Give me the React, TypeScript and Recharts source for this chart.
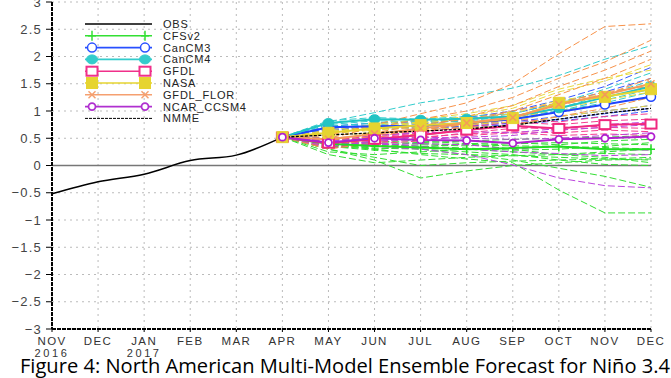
import React from 'react';
import { LineChart, Line, XAxis, YAxis, CartesianGrid, ReferenceLine } from 'recharts';

const months = ['NOV', 'DEC', 'JAN', 'FEB', 'MAR', 'APR', 'MAY', 'JUN', 'JUL', 'AUG', 'SEP', 'OCT', 'NOV', 'DEC'];
const yearLabels = ['2016', '', '2017', '', '', '', '', '', '', '', '', '', '', ''];
const obsValues = [-0.52, -0.3, -0.16, 0.09, 0.19, 0.52];
const initValue = 0.52; // APR, start of forecasts
const yTicks = [-3, -2.5, -2, -1.5, -1, -0.5, 0, 0.5, 1, 1.5, 2, 2.5, 3];

// model means, MAY..DEC
const cfsv2Mean = [0.4, 0.36, 0.33, 0.3, 0.32, 0.35, 0.3, 0.3];
const cancm3Mean = [0.7, 0.72, 0.73, 0.78, 0.85, 0.98, 1.12, 1.26];
const cancm4Mean = [0.78, 0.85, 0.84, 0.86, 0.9, 1.05, 1.25, 1.45];
const gfdlMean = [0.41, 0.48, 0.56, 0.65, 0.73, 0.68, 0.75, 0.76];
const nasaMean = [0.6, 0.68, 0.74, 0.78, 0.87, 1.15, 1.26, 1.4];
const florMean = [0.48, 0.58, 0.68, 0.78, 0.88, 1.12, 1.3, 1.5];
const ncarMean = [0.42, 0.5, 0.47, 0.46, 0.41, 0.48, 0.5, 0.53];
const nmmeMean = [0.56, 0.6, 0.63, 0.67, 0.74, 0.85, 0.96, 1.05];

// ensemble members, MAY..DEC
const cfsv2Members = [
  [0.45, 0.42, 0.4, 0.38, 0.36, 0.35, 0.33, 0.3],
  [0.35, 0.28, 0.22, 0.2, 0.18, 0.15, 0.12, 0.1],
  [0.3, 0.15, 0.0, 0.05, 0.08, 0.1, 0.12, 0.15],
  [0.4, 0.3, 0.2, 0.12, 0.05, -0.45, -0.87, -0.87],
  [0.3, 0.1, -0.23, -0.1, 0.0, 0.05, 0.1, 0.12],
  [0.38, 0.32, 0.3, 0.25, 0.2, 0.1, 0.02, 0.0],
  [0.5, 0.45, 0.42, 0.45, 0.48, 0.5, 0.52, 0.55],
  [0.25, 0.2, 0.25, 0.3, 0.25, 0.2, 0.25, 0.3],
  [0.42, 0.38, 0.3, 0.2, 0.1, -0.05, -0.2, -0.4],
  [0.48, 0.5, 0.45, 0.4, 0.3, 0.2, 0.15, 0.05],
  [0.33, 0.35, 0.38, 0.36, 0.4, 0.42, 0.4, 0.38],
  [0.2, 0.05, 0.1, 0.15, 0.18, 0.2, 0.22, 0.2],
  [0.44, 0.4, 0.35, 0.32, 0.28, 0.3, 0.35, 0.42],
  [0.36, 0.3, 0.34, 0.4, 0.42, 0.38, 0.45, 0.48],
];
const cancm3Members = [
  [0.68, 0.72, 0.75, 0.85, 0.95, 1.15, 1.35, 1.6],
  [0.7, 0.7, 0.72, 0.75, 0.8, 0.9, 1.0, 1.1],
  [0.65, 0.68, 0.7, 0.72, 0.78, 0.85, 0.95, 1.05],
  [0.72, 0.78, 0.8, 0.88, 1.0, 1.2, 1.45, 1.8],
  [0.66, 0.7, 0.68, 0.7, 0.75, 0.82, 0.9, 1.0],
];
const cancm4Members = [
  [0.8, 0.97, 1.15, 1.28, 1.42, 1.65, 1.95, 2.2],
  [0.75, 0.82, 0.8, 0.85, 0.88, 1.05, 1.3, 1.55],
  [0.72, 0.78, 0.82, 0.8, 0.85, 1.0, 1.15, 1.35],
  [0.82, 0.88, 0.85, 0.9, 0.95, 1.15, 1.4, 1.7],
  [0.7, 0.75, 0.78, 0.82, 0.9, 1.0, 1.2, 1.4],
];
const gfdlMembers = [
  [0.35, 0.42, 0.5, 0.6, 0.68, 0.7, 0.72, 0.78],
  [0.45, 0.55, 0.62, 0.7, 0.8, 0.75, 0.82, 0.85],
  [0.38, 0.45, 0.52, 0.58, 0.62, 0.6, 0.65, 0.62],
  [0.48, 0.52, 0.6, 0.72, 0.85, 0.8, 0.9, 0.95],
  [0.32, 0.4, 0.45, 0.55, 0.6, 0.55, 0.58, 0.55],
  [0.42, 0.5, 0.58, 0.65, 0.72, 0.65, 0.7, 0.68],
];
const nasaMembers = [
  [0.62, 0.72, 0.8, 0.9, 1.05, 1.35, 1.55, 1.85],
  [0.58, 0.65, 0.7, 0.75, 0.8, 1.0, 1.12, 1.25],
  [0.65, 0.75, 0.85, 0.95, 1.1, 1.4, 1.6, 1.75],
  [0.55, 0.6, 0.65, 0.7, 0.72, 0.9, 1.0, 1.1],
  [0.6, 0.7, 0.78, 0.85, 0.95, 1.2, 1.3, 1.5],
  [0.63, 0.68, 0.72, 0.75, 0.85, 1.05, 1.2, 1.35],
];
const florMembers = [
  [0.55, 0.75, 0.95, 1.15, 1.5, 2.05, 2.55, 2.6],
  [0.35, 0.5, 0.7, 0.9, 1.1, 1.45, 1.75, 2.1],
  [0.4, 0.55, 0.65, 0.75, 0.9, 1.1, 1.3, 1.6],
  [0.3, 0.42, 0.6, 0.8, 1.0, 1.3, 1.6, 1.95],
  [0.45, 0.6, 0.75, 0.85, 1.0, 1.15, 1.35, 1.45],
  [0.38, 0.48, 0.55, 0.65, 0.75, 0.9, 1.05, 1.25],
  [0.5, 0.7, 0.85, 1.0, 1.25, 1.6, 1.9, 2.3],
];
const ncarMembers = [
  [0.4, 0.35, 0.3, 0.2, 0.01, -0.23, -0.37, -0.41],
  [0.45, 0.5, 0.52, 0.5, 0.48, 0.5, 0.55, 0.6],
  [0.38, 0.42, 0.35, 0.3, 0.25, 0.22, 0.18, 0.2],
  [0.5, 0.55, 0.6, 0.62, 0.6, 0.68, 0.75, 0.8],
  [0.42, 0.38, 0.4, 0.38, 0.3, 0.35, 0.3, 0.28],
  [0.35, 0.45, 0.48, 0.52, 0.55, 0.65, 0.7, 0.75],
];

type Model = { key: string; color: string; memberColor: string; marker: string; mean: number[]; members: number[][] };
const models: Model[] = [
  { key: 'CFSv2', color: '#22dd22', memberColor: '#33dd33', marker: 'plus', mean: cfsv2Mean, members: cfsv2Members },
  { key: 'CanCM3', color: '#1f45ff', memberColor: '#3355ff', marker: 'ocircle', mean: cancm3Mean, members: cancm3Members },
  { key: 'CanCM4', color: '#22c4c4', memberColor: '#33cccc', marker: 'fcircle', mean: cancm4Mean, members: cancm4Members },
  { key: 'GFDL', color: '#f0287f', memberColor: '#f53c90', marker: 'osquare', mean: gfdlMean, members: gfdlMembers },
  { key: 'NASA', color: '#e6d430', memberColor: '#e8d840', marker: 'fsquare', mean: nasaMean, members: nasaMembers },
  { key: 'GFDL_FLOR', color: '#f59a5a', memberColor: '#f7924a', marker: 'cross', mean: florMean, members: florMembers },
  { key: 'NCAR_CCSM4', color: '#b020d0', memberColor: '#bb44dd', marker: 'ocirclesmall', mean: ncarMean, members: ncarMembers },
];

const data = months.map((m, i) => {
  const row: any = { idx: i, month: m, year: yearLabels[i] };
  if (i < obsValues.length) row.OBS = obsValues[i];
  if (i >= 5) {
    const j = i - 5;
    const val = (arr: number[]) => (j === 0 ? initValue : arr[j - 1]);
    models.forEach((md) => {
      row[md.key] = val(md.mean);
      md.members.forEach((mem, k) => {
        row[`${md.key}_m${k}`] = val(mem);
      });
    });
    row.NMME = val(nmmeMean);
  }
  return row;
});

function drawMarker(type: string, color: string, cx: number, cy: number, key?: any) {
  switch (type) {
    case 'plus':
      return (
        <g key={key}>
          <line x1={cx - 4} y1={cy} x2={cx + 4} y2={cy} stroke={color} strokeWidth={1.5} />
          <line x1={cx} y1={cy - 5} x2={cx} y2={cy + 5} stroke={color} strokeWidth={1.5} />
        </g>
      );
    case 'ocircle':
      return <circle key={key} cx={cx} cy={cy} r={4.5} fill="#fff" stroke={color} strokeWidth={1.5} />;
    case 'fcircle':
      return <ellipse key={key} cx={cx} cy={cy} rx={5.5} ry={4.5} fill={color} stroke={color} />;
    case 'osquare':
      return <rect key={key} x={cx - 5.5} y={cy - 4.5} width={11} height={9} fill="#fff" stroke={color} strokeWidth={2} />;
    case 'fsquare':
      return <rect key={key} x={cx - 5.5} y={cy - 5.5} width={11} height={11} fill={color} stroke={color} />;
    case 'cross':
      return (
        <g key={key}>
          <line x1={cx - 3.5} y1={cy - 3.5} x2={cx + 3.5} y2={cy + 3.5} stroke={color} strokeWidth={1.5} />
          <line x1={cx - 3.5} y1={cy + 3.5} x2={cx + 3.5} y2={cy - 3.5} stroke={color} strokeWidth={1.5} />
        </g>
      );
    case 'ocirclesmall':
      return <circle key={key} cx={cx} cy={cy} r={3.5} fill="#fff" stroke={color} strokeWidth={1.8} />;
    default:
      return <g key={key} />;
  }
}

const tickFont = 'Liberation Sans, Arial, sans-serif';

const XTick = (props: any) => {
  const { x, y, payload } = props;
  const year = yearLabels[payload.value] ?? '';
  return (
    <g>
      <text x={x} y={y + 12} textAnchor="middle" fontFamily={tickFont} fontSize={11.5} letterSpacing={1.4} fill="#333">
        {months[payload.value]}
      </text>
      {year ? (
        <text x={x} y={y + 24} textAnchor="middle" fontFamily={tickFont} fontSize={11} letterSpacing={2.6} fill="#333">
          {year}
        </text>
      ) : null}
    </g>
  );
};

const fmtY = (v: number) => (v < 0 ? `\u2212${Math.abs(v)}` : `${v}`);

const legendItems = [
  { label: 'OBS', color: '#000', marker: 'none', dash: undefined as string | undefined, width: 1.6 },
  { label: 'CFSv2', color: '#33e033', marker: 'plus', dash: undefined, width: 1.6 },
  { label: 'CanCM3', color: '#2850ff', marker: 'ocircle', dash: undefined, width: 1.6 },
  { label: 'CanCM4', color: '#33cccc', marker: 'fcircle', dash: undefined, width: 1.6 },
  { label: 'GFDL', color: '#f0308a', marker: 'osquare', dash: undefined, width: 1.6 },
  { label: 'NASA', color: '#e6d430', marker: 'fsquare', dash: undefined, width: 1.6 },
  { label: 'GFDL_FLOR', color: '#f5a070', marker: 'cross', dash: undefined, width: 1.6 },
  { label: 'NCAR_CCSM4', color: '#b030d0', marker: 'ocirclesmall', dash: undefined, width: 1.6 },
  { label: 'NMME', color: '#000', marker: 'none', dash: '3 1', width: 1 },
];

const frameStyle = { stroke: '#000', strokeWidth: 2, strokeDasharray: '4 1' };

export default function App() {
  return (
    <div style={{ position: 'absolute', left: 0, top: 0, width: 671, height: 378, background: '#fff' }}>
      <LineChart width={671} height={378} data={data} margin={{ top: 2, right: 20, bottom: 19, left: 0 }}>
        <CartesianGrid stroke="#bbb" strokeDasharray="2 4" strokeWidth={1} />
        <XAxis
          dataKey="idx"
          type="number"
          domain={[0, 13]}
          ticks={months.map((_, i) => i)}
          height={30}
          tick={<XTick />}
          tickSize={3}
          tickMargin={1}
          interval={0}
          axisLine={frameStyle}
          tickLine={{ stroke: '#000' }}
        />
        <XAxis xAxisId="top" dataKey="idx" type="number" domain={[0, 13]} orientation="top" height={0} tick={false} tickLine={false} axisLine={frameStyle} />
        <YAxis
          domain={[-3, 3]}
          ticks={yTicks}
          width={52}
          tickFormatter={fmtY}
          tickSize={6}
          tickMargin={4}
          interval={0}
          allowDataOverflow
          axisLine={frameStyle}
          tickLine={{ stroke: '#000' }}
          tick={{ fontFamily: tickFont, fontSize: 13, fill: '#444', letterSpacing: 1.2 }}
        />
        <YAxis yAxisId="right" orientation="right" domain={[-3, 3]} width={0} tick={false} tickLine={false} axisLine={{ stroke: '#000', strokeWidth: 2.5, strokeDasharray: '4 1' }} />
        <ReferenceLine y={0} stroke="#777" strokeWidth={1.5} />
        {models.flatMap((md) =>
          md.members.map((_, k) => (
            <Line
              key={`${md.key}_m${k}`}
              dataKey={`${md.key}_m${k}`}
              stroke={md.memberColor}
              strokeWidth={1}
              strokeDasharray="7 3"
              dot={false}
              activeDot={false}
              isAnimationActive={false}
              connectNulls={false}
            />
          ))
        )}
        {models.map((md) => (
          <Line
            key={md.key}
            dataKey={md.key}
            stroke={md.color}
            strokeWidth={2}
            isAnimationActive={false}
            activeDot={false}
            dot={(p: any) =>
              p.cy == null || p.value == null ? <g key={p.index} /> : drawMarker(md.marker, md.color, p.cx, p.cy, p.index)
            }
          />
        ))}
        <Line dataKey="NMME" stroke="#000" strokeWidth={1.3} strokeDasharray="3 1.5" dot={false} activeDot={false} isAnimationActive={false} />
        <Line dataKey="OBS" type="monotone" stroke="#000" strokeWidth={1.5} dot={false} activeDot={false} isAnimationActive={false} />
      </LineChart>
      <svg width={671} height={378} style={{ position: 'absolute', left: 0, top: 0, pointerEvents: 'none' }}>
        {legendItems.map((it, i) => {
          const y = 24 + i * 11.8;
          return (
            <g key={it.label}>
              <line x1={85} y1={y} x2={152} y2={y} stroke={it.color} strokeWidth={it.width} strokeDasharray={it.dash} />
              {it.marker !== 'none' ? drawMarker(it.marker, it.color, 92, y, 'a') : null}
              {it.marker !== 'none' ? drawMarker(it.marker, it.color, 145, y, 'b') : null}
              <text x={163} y={y + 4} fontFamily={tickFont} fontSize={11} letterSpacing={0.8} fill="#222">
                {it.label}
              </text>
            </g>
          );
        })}
        <text x={20} y={373} fontFamily="'Open Sans', 'Noto Sans', sans-serif" fontSize={20} textLength={650} lengthAdjust="spacingAndGlyphs" fill="#000">
          Figure 4: North American Multi-Model Ensemble Forecast for Niño 3.4
        </text>
      </svg>
    </div>
  );
}
